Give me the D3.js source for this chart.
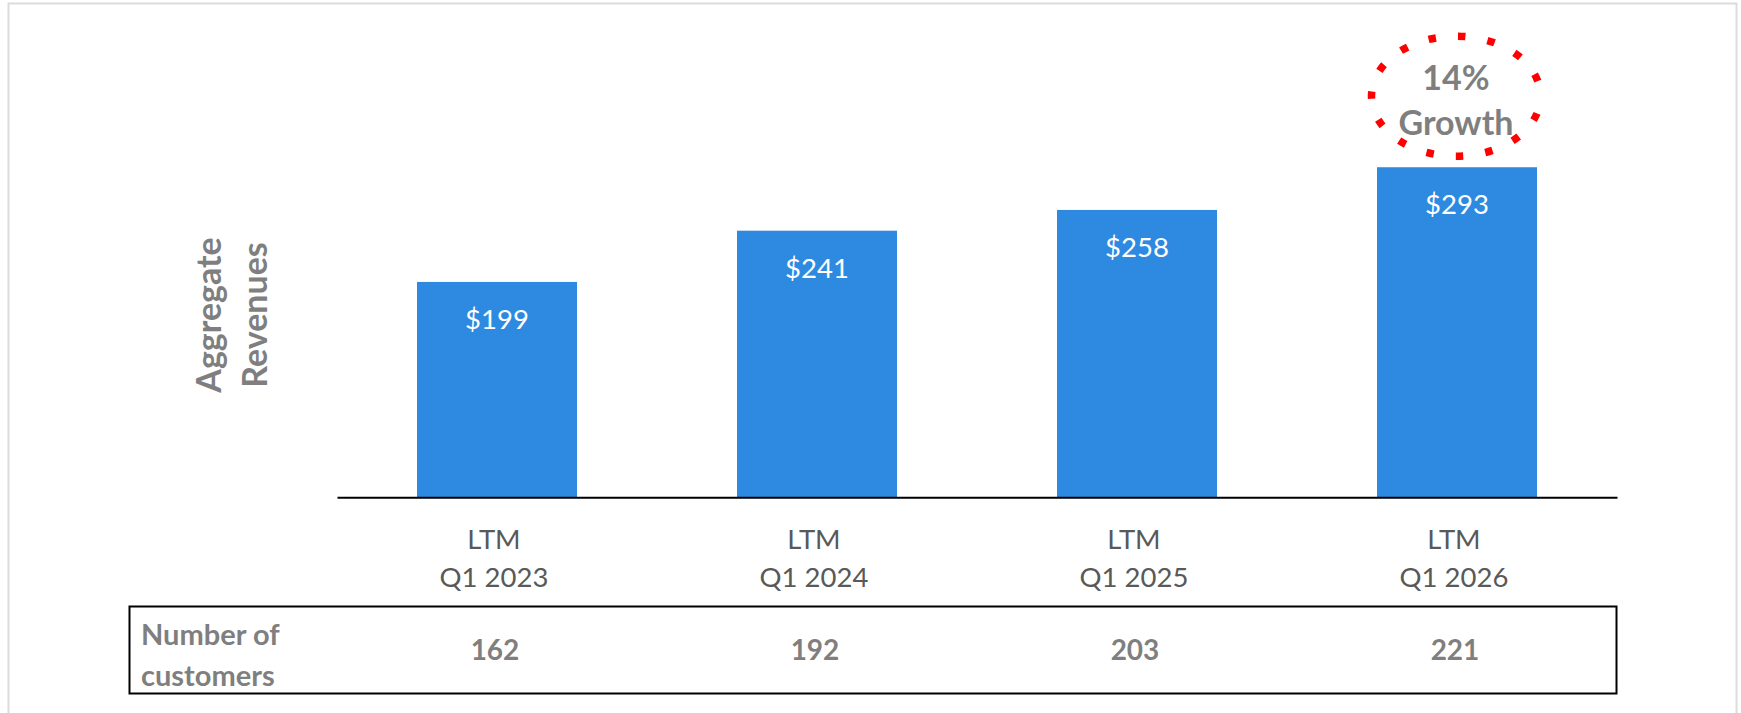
<!DOCTYPE html>
<html>
<head>
<meta charset="utf-8">
<script src="https://cdn.jsdelivr.net/npm/d3@7"></script>
<style>
  body { margin: 0; background: #fff; }
  text { font-family: Lato, "Open Sans", sans-serif; }
</style>
</head>
<body>
<script>
// chart values
const periods = ["LTM\nQ1 2023", "LTM\nQ1 2024", "LTM\nQ1 2025", "LTM\nQ1 2026"]
const revenues = [199, 241, 258, 293]
const customers = [162, 192, 203, 221]
const revenueRange = [22.5, 300]   // value axis starts above zero in the original
const yTitle = ["Aggregate", "Revenues"]
const rowTitle = ["Number of", "customers"]

const w = 1741
const h = 713
const base = 497.3

const svg = d3.select('body')
    .append('svg')
    .attr('width', w)
    .attr('height', h)

// light outer frame
svg.append('rect')
    .attr('x', 8.5).attr('y', 3.5)
    .attr('width', 1728).attr('height', 740)
    .attr('fill', 'none')
    .attr('stroke', '#dcdcdc')
    .attr('stroke-width', 2)

const x = d3.scaleBand()
    .domain(periods)
    .range([337, 1617])
    .paddingInner(0.5)
    .paddingOuter(0.25)

const y = d3.scaleLinear()
    .domain(revenueRange)
    .range([base, base - (revenueRange[1] - revenueRange[0]) * 1.2202])

// bars
svg.selectAll('rect.bar')
    .data(revenues)
    .enter()
    .append('rect')
    .attr('class', 'bar')
    .attr('x', (d, i) => x(periods[i]))
    .attr('y', d => y(d))
    .attr('width', x.bandwidth())
    .attr('height', d => base - y(d))
    .attr('fill', '#2e8ae0')

// value labels inside bars
svg.selectAll('text.val')
    .data(revenues)
    .enter()
    .append('text')
    .attr('class', 'val')
    .attr('x', (d, i) => x(periods[i]) + x.bandwidth() / 2)
    .attr('y', d => y(d) + 47)
    .attr('text-anchor', 'middle')
    .attr('fill', '#ffffff')
    .attr('font-size', '27.5px')
    .text(d => '$' + d)

// x axis
const axis = svg.append('g')
    .attr('transform', `translate(0,${base})`)
    .call(d3.axisBottom(x).tickSize(0).tickSizeOuter(0))
axis.select('.domain')
    .attr('stroke', '#000')
    .attr('stroke-width', 2)
axis.selectAll('.tick text').remove()
axis.selectAll('.tick')
    .append('text')
    .attr('text-anchor', 'middle')
    .attr('fill', '#595959')
    .attr('font-size', '27.5px')
    .attr('font-family', 'Lato, sans-serif')
    .selectAll('tspan')
    .data(d => d.split('\n'))
    .enter()
    .append('tspan')
    .attr('x', -3)
    .attr('y', (d, i) => 52 + i * 38)
    .text(d => d)

// y axis title
svg.append('text')
    .attr('transform', 'translate(221,315) rotate(-90)')
    .attr('text-anchor', 'middle')
    .attr('fill', '#7f7f7f')
    .attr('font-weight', 'bold')
    .attr('font-size', '34px')
    .selectAll('tspan')
    .data(yTitle)
    .enter()
    .append('tspan')
    .attr('x', 0)
    .attr('y', (d, i) => i * 46)
    .text(d => d)

// growth callout above last bar
const last = periods.length - 1
const cx = x(periods[last]) + x.bandwidth() / 2 - 1
const cy = y(revenues[last]) - 71
const growth = d3.format('.0%')(revenues[last] / revenues[last - 1] - 1)

svg.append('ellipse')
    .attr('cx', cx).attr('cy', cy)
    .attr('rx', 84.5).attr('ry', 60)
    .attr('fill', 'none')
    .attr('stroke', '#ff0000')
    .attr('stroke-width', 7.5)
    .attr('stroke-dasharray', '7.5 22.2')
    .attr('stroke-dashoffset', 12)

svg.append('text')
    .attr('text-anchor', 'middle')
    .attr('fill', '#7f7f7f')
    .attr('font-weight', 'bold')
    .attr('font-size', '34px')
    .selectAll('tspan')
    .data([growth, 'Growth'])
    .enter()
    .append('tspan')
    .attr('x', cx)
    .attr('y', (d, i) => 90 + i * 45)
    .text(d => d)

// customers table
svg.append('rect')
    .attr('x', 129.5).attr('y', 606.5)
    .attr('width', 1487).attr('height', 87)
    .attr('fill', 'none')
    .attr('stroke', '#000')
    .attr('stroke-width', 2)

svg.append('text')
    .attr('fill', '#7f7f7f')
    .attr('font-weight', 'bold')
    .attr('font-size', '29px')
    .selectAll('tspan')
    .data(rowTitle)
    .enter()
    .append('tspan')
    .attr('x', 141)
    .attr('y', (d, i) => 645 + i * 41)
    .text(d => d)

svg.selectAll('text.cust')
    .data(customers)
    .enter()
    .append('text')
    .attr('class', 'cust')
    .attr('x', (d, i) => x(periods[i]) + x.bandwidth() / 2 - 2)
    .attr('y', 660)
    .attr('text-anchor', 'middle')
    .attr('fill', '#7f7f7f')
    .attr('font-weight', 'bold')
    .attr('font-size', '28px')
    .text(d => d)
</script>
</body>
</html>
